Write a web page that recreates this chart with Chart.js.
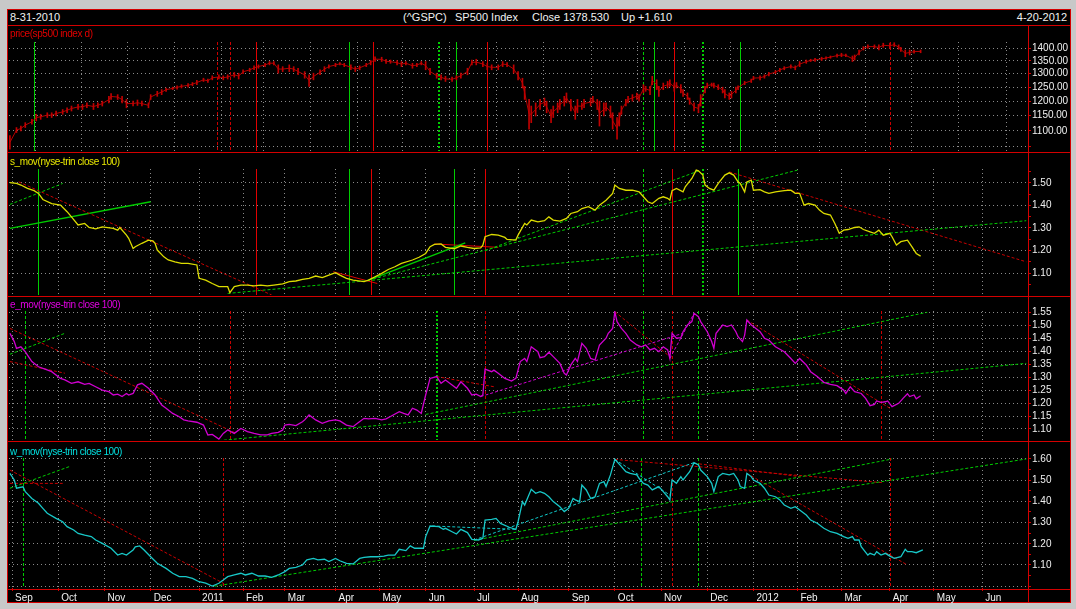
<!DOCTYPE html>
<html>
<head>
<meta charset="utf-8">
<script src="https://cdn.jsdelivr.net/npm/chart.js@4.4.0/dist/chart.umd.min.js"></script>
<style>
  body { margin: 0; width: 1076px; height: 609px; overflow: hidden; position: relative; background: #c8c8c8; font-family: "Liberation Sans", Arial, sans-serif; }
  #frame { position: absolute; left: 7px; top: 9px; width: 1062px; height: 592px; background: #000; border: 1px solid #d40000; }
  canvas { position: absolute; left: 9px; }
  .hl { position: absolute; left: 7px; width: 1064px; height: 1px; background: #d40000; z-index: 5; }
  .vl { position: absolute; width: 1px; background: #d40000; z-index: 5; }
  .t { position: absolute; font-size: 11px; line-height: 12px; color: #f0f0f0; white-space: pre; z-index: 6; }
  .lab { position: absolute; left: 10px; font-size: 10px; line-height: 11px; letter-spacing: -0.4px; white-space: pre; z-index: 6; }
</style>
</head>
<body>
<div id="frame"></div>

<canvas id="pricePanel" width="1062" height="126" style="top:26px"></canvas>
<canvas id="sPanel" width="1062" height="143" style="top:153px"></canvas>
<canvas id="ePanel" width="1062" height="144" style="top:297px"></canvas>
<canvas id="wPanel" width="1062" height="161" style="top:442px"></canvas>

<div class="hl" style="top:25px"></div>
<div class="hl" style="top:152px"></div>
<div class="hl" style="top:296px"></div>
<div class="hl" style="top:441px"></div>
<div class="hl" style="top:589px"></div>
<div class="vl" style="left:1028px; top:25px; height:578px"></div>

<div class="t" style="left:10px; top:11px">8-31-2010</div>
<div class="t" style="left:403px; top:11px">(^GSPC)</div>
<div class="t" style="left:455px; top:11px">SP500 Index</div>
<div class="t" style="left:532px; top:11px">Close 1378.530</div>
<div class="t" style="left:621px; top:11px">Up +1.610</div>
<div class="t" style="right:9px; top:11px">4-20-2012</div>

<div class="lab" style="top:28px; color:#e00000">price(sp500 index d)</div>
<div class="lab" style="top:156px; color:#e8e800">s_mov(nyse-trin close 100)</div>
<div class="lab" style="top:299px; color:#e000e0">e_mov(nyse-trin close 100)</div>
<div class="lab" style="top:446px; color:#00e0e0">w_mov(nyse-trin close 100)</div>

<script>
// trading day numbers, day 0 = Sep 1 2010
const DAY_MIN = -1.4;
const DAY_MAX = 461.8;
const monthDays = [0, 21, 42, 63, 85, 105, 124, 147, 167, 188, 210, 230, 253, 274, 295, 316, 337, 357, 377, 399, 419, 441];
const monthNames = ['Sep', 'Oct', 'Nov', 'Dec', '2011', 'Feb', 'Mar', 'Apr', 'May', 'Jun', 'Jul', 'Aug', 'Sep', 'Oct', 'Nov', 'Dec', '2012', 'Feb', 'Mar', 'Apr', 'May', 'Jun'];

// price(sp500 index d) - daily ranges, sampled
const priceDay = [-1,2,4,6,9,11,13,16,18,20,23,25,27,30,32,34,37,39,41,44,45,48,50,52,55,57,59,62,63,66,68,70,73,75,77,80,82,84,87,89,91,94,96,98,101,103,105,108,110,112,115,117,119,121,123,126,128,130,133,135,137,140,142,144,147,149,151,154,156,158,161,163,165,168,170,172,175,177,179,182,184,186,188,190,193,195,197,200,202,204,207,209,211,214,216,218,221,223,225,228,230,232,233,235,236,238,
  240,242,243,245,246,248,249,251,252,254,256,257,259,260,263,264,266,267,269,270,272,273,275,276,277,279,280,282,284,285,287,288,290,291,293,294,296,298,299,301,302,304,305,307,308,310,312,313,315,316,318,319,321,323,324,326,327,329,330,333,336,337,340,342,344,347,349,351,354,356,358,361,363,365,368,370,372,375,377,379,382,383,385,387,389,392,394,396,399,401,403,404,406,408,410,413];
const priceLow = [1043,1095,1100,1111,1122,1133,1138,1144,1144,1149,1155,1160,1166,1171,1171,1177,1171,1177,1183,1194,1206,1206,1194,1177,1183,1185,1183,1177,1206,1217,1223,1235,1241,1243,1247,1250,1255,1259,1271,1267,1277,1280,1277,1280,1287,1280,1300,1308,1315,1321,1327,1334,1334,1302,1308,1308,1308,1296,1283,1253,1277,1296,1308,1321,1327,1334,1327,1315,1308,1315,1327,1334,1347,1347,1340,1340,1334,1327,1334,1321,1327,1334,1315,1296,1283,1277,1271,1271,1277,1283,1296,1334,1334,1327,1315,1315,1315,1327,1327,1302,1277,1247,1206,1106,1127,1149,
  1171,1183,1160,1127,1144,1160,1171,1183,1194,1166,1138,1160,1171,1177,1183,1194,1171,1116,1149,1166,1144,1106,1074,1116,1155,1183,1194,1200,1206,1200,1229,1235,1223,1259,1241,1217,1241,1247,1253,1235,1247,1229,1217,1206,1189,1166,1160,1183,1229,1247,1253,1247,1241,1229,1211,1206,1211,1229,1241,1259,1267,1277,1277,1283,1292,1300,1308,1315,1321,1315,1327,1340,1347,1347,1351,1356,1360,1364,1366,1366,1347,1353,1373,1393,1400,1400,1393,1404,1400,1407,1396,1387,1366,1373,1380,1382];
const priceHigh = [1085,1111,1116,1127,1138,1155,1155,1160,1160,1166,1171,1177,1183,1189,1189,1194,1192,1194,1200,1217,1227,1223,1217,1206,1200,1204,1200,1194,1223,1235,1241,1247,1250,1255,1259,1263,1267,1275,1283,1280,1292,1296,1292,1296,1305,1302,1315,1321,1330,1334,1340,1347,1347,1334,1327,1334,1327,1321,1308,1296,1302,1315,1327,1334,1340,1343,1340,1334,1327,1330,1340,1351,1366,1364,1356,1353,1351,1347,1347,1340,1340,1347,1347,1321,1302,1296,1290,1287,1292,1302,1321,1353,1356,1347,1340,1334,1334,1347,1343,1334,1308,1283,1253,1206,1183,1194,
  1206,1211,1200,1171,1183,1194,1206,1217,1229,1206,1183,1206,1194,1206,1211,1217,1206,1200,1194,1194,1183,1160,1144,1160,1183,1206,1217,1223,1229,1223,1259,1253,1253,1290,1277,1253,1265,1271,1277,1265,1267,1259,1241,1229,1211,1194,1189,1223,1253,1265,1265,1265,1259,1250,1241,1229,1235,1250,1255,1271,1280,1290,1292,1296,1305,1312,1321,1327,1334,1330,1347,1353,1356,1360,1364,1366,1369,1377,1380,1377,1369,1373,1393,1407,1414,1414,1414,1421,1421,1423,1414,1404,1393,1393,1393,1393];
const priceTicks = [1050, 1100, 1150, 1200, 1250, 1300, 1350, 1400];
const priceLabeled = [1100, 1150, 1200, 1250, 1300, 1350, 1400];

// s_mov(nyse-trin close 100)
const sDay = [-1,2,4,7,10,12,14,18,22,25,27,30,33,35,38,41,46,48,49,52,53,55,56,59,62,64,65,66,69,71,74,77,80,84,85,88,91,94,98,99,101,104,107,110,113,116,119,123,126,129,132,135,138,141,144,147,149,152,155,160,162,165,168,171,174,177,182,185,188,190,192,195,197,201,204,207,210,213,214,215,218,221,224,225,229,230,233,234,236,239,242,244,246,249,252,254,257,259,262,265,267,270,273,274,276,279,282,285,287,289,291,294,296,298,299,300,302,305,306,309,311,312,314,315,317,319,321,324,326,328,330,331,333,334,336,337,340,342,344,347,351,354,356,358,360,362,365,367,369,372,374,376,378,380,383,385,387,390,392,394,396,399,400,402,404,407,409,411,413];
const sVal = [1.501,1.497,1.490,1.475,1.465,1.453,1.426,1.408,1.401,1.372,1.349,1.313,1.320,1.302,1.296,1.305,1.298,1.290,1.302,1.268,1.254,1.209,1.217,1.232,1.246,1.243,1.232,1.202,1.172,1.158,1.150,1.143,1.143,1.136,1.077,1.069,1.054,1.040,1.040,1.013,1.040,1.047,1.047,1.043,1.047,1.043,1.047,1.052,1.062,1.065,1.072,1.077,1.087,1.080,1.091,1.102,1.091,1.077,1.069,1.062,1.069,1.084,1.099,1.116,1.128,1.143,1.158,1.170,1.187,1.217,1.227,1.229,1.214,1.208,1.220,1.214,1.209,1.212,1.224,1.261,1.271,1.268,1.258,1.249,1.246,1.268,1.320,1.313,1.335,1.327,1.332,1.349,1.335,1.330,1.342,1.364,1.372,1.386,1.394,1.379,1.401,1.423,1.453,1.490,1.475,1.467,1.467,1.460,1.438,1.416,1.408,1.431,1.438,1.431,1.423,1.465,1.475,1.460,1.482,1.519,1.556,1.553,1.534,1.490,1.475,1.467,1.497,1.534,1.544,1.534,1.504,1.497,1.460,1.504,1.512,1.467,1.470,1.460,1.453,1.460,1.465,1.467,1.453,1.453,1.401,1.408,1.401,1.379,1.364,1.357,1.320,1.276,1.290,1.293,1.302,1.305,1.293,1.283,1.276,1.290,1.268,1.276,1.261,1.224,1.239,1.246,1.217,1.187,1.175];
const sTicks = [1.05, 1.10, 1.15, 1.20, 1.25, 1.30, 1.35, 1.40, 1.45, 1.50, 1.55];
const sLabeled = [1.10, 1.20, 1.30, 1.40, 1.50];

// e_mov(nyse-trin close 100)
const eDay = [-1,1,2,4,6,7,9,12,15,18,22,24,27,30,33,35,38,41,44,46,48,50,52,53,55,57,59,62,65,68,70,73,76,78,80,84,87,89,91,94,96,98,101,104,107,110,113,116,118,121,123,124,126,129,132,133,135,138,141,144,147,149,152,155,157,160,162,165,168,170,172,176,178,180,182,184,186,188,190,193,195,197,200,202,204,207,209,211,213,214,215,218,219,221,224,227,229,231,233,234,236,239,240,242,244,246,249,251,252,254,256,257,259,261,263,265,267,270,271,273,274,275,277,279,281,284,286,288,290,292,294,296,298,299,300,302,304,305,307,309,310,312,313,316,318,319,320,323,325,327,329,330,332,333,334,336,337,340,342,344,347,351,354,356,358,361,363,366,369,372,375,378,379,381,383,386,388,390,392,393,395,397,398,400,403,405,407,408,410,411,413];
const eVal = [1.469,1.437,1.411,1.417,1.398,1.385,1.360,1.340,1.331,1.321,1.295,1.289,1.276,1.282,1.272,1.276,1.263,1.250,1.244,1.231,1.234,1.225,1.237,1.231,1.237,1.270,1.276,1.257,1.231,1.192,1.180,1.160,1.147,1.135,1.131,1.126,1.115,1.077,1.079,1.061,1.083,1.096,1.083,1.102,1.090,1.083,1.077,1.077,1.083,1.087,1.096,1.115,1.118,1.113,1.128,1.135,1.154,1.135,1.122,1.131,1.135,1.131,1.115,1.109,1.122,1.141,1.139,1.141,1.135,1.139,1.148,1.167,1.160,1.154,1.180,1.173,1.160,1.231,1.295,1.302,1.276,1.289,1.270,1.257,1.282,1.257,1.231,1.234,1.225,1.231,1.331,1.321,1.327,1.315,1.295,1.285,1.295,1.360,1.372,1.360,1.417,1.398,1.375,1.379,1.396,1.379,1.353,1.315,1.308,1.347,1.372,1.360,1.430,1.411,1.372,1.366,1.424,1.450,1.469,1.488,1.552,1.514,1.488,1.469,1.443,1.424,1.417,1.424,1.405,1.411,1.398,1.417,1.405,1.372,1.469,1.450,1.452,1.475,1.501,1.514,1.546,1.533,1.514,1.475,1.437,1.411,1.469,1.501,1.495,1.501,1.475,1.456,1.437,1.462,1.520,1.501,1.495,1.475,1.450,1.443,1.417,1.398,1.372,1.353,1.372,1.347,1.321,1.302,1.280,1.272,1.267,1.250,1.237,1.263,1.244,1.237,1.218,1.190,1.195,1.208,1.203,1.205,1.208,1.186,1.199,1.218,1.236,1.225,1.231,1.216,1.228];
const eTicks = [1.10, 1.15, 1.20, 1.25, 1.30, 1.35, 1.40, 1.45, 1.50, 1.55];
const eLabeled = eTicks;

// w_mov(nyse-trin close 100)
const wDay = [-1,1,2,5,6,9,12,14,16,20,23,25,28,30,33,36,38,41,45,48,50,52,55,56,58,60,63,66,70,73,76,79,82,85,88,91,94,96,98,101,104,106,109,112,115,118,121,124,126,129,132,134,137,139,142,144,147,149,152,155,158,160,163,166,169,171,174,176,179,181,183,187,188,190,194,196,197,200,202,204,207,209,212,214,215,218,220,222,226,229,230,232,233,236,238,240,242,244,246,249,251,253,255,256,258,259,261,263,265,267,269,270,272,274,277,279,281,284,285,287,289,291,294,296,298,299,300,302,304,305,308,310,312,313,316,318,319,321,323,326,328,330,331,333,334,336,337,340,342,344,347,349,351,354,356,358,361,363,366,369,372,375,378,380,382,383,385,386,389,390,392,393,395,397,399,401,404,406,407,409,411,414];
const wVal = [1.532,1.501,1.462,1.469,1.446,1.414,1.391,1.367,1.344,1.320,1.304,1.281,1.265,1.249,1.241,1.234,1.218,1.202,1.179,1.147,1.155,1.147,1.171,1.186,1.190,1.171,1.139,1.108,1.084,1.061,1.045,1.045,1.037,1.021,1.014,1.001,1.014,1.029,1.045,1.053,1.061,1.053,1.061,1.048,1.048,1.042,1.053,1.069,1.084,1.089,1.100,1.124,1.131,1.124,1.127,1.116,1.131,1.120,1.108,1.105,1.131,1.136,1.139,1.139,1.142,1.147,1.147,1.174,1.168,1.190,1.179,1.179,1.234,1.284,1.281,1.268,1.273,1.257,1.246,1.268,1.253,1.221,1.218,1.226,1.312,1.315,1.320,1.296,1.278,1.268,1.304,1.399,1.383,1.457,1.438,1.446,1.438,1.422,1.399,1.375,1.352,1.367,1.414,1.407,1.399,1.477,1.454,1.414,1.422,1.485,1.493,1.470,1.525,1.598,1.564,1.540,1.532,1.525,1.509,1.485,1.477,1.454,1.470,1.446,1.422,1.407,1.501,1.485,1.517,1.501,1.540,1.583,1.572,1.548,1.517,1.485,1.446,1.517,1.532,1.525,1.532,1.501,1.470,1.462,1.532,1.517,1.501,1.485,1.462,1.430,1.422,1.407,1.383,1.367,1.375,1.359,1.336,1.312,1.297,1.273,1.257,1.249,1.234,1.226,1.234,1.218,1.218,1.186,1.147,1.155,1.147,1.163,1.147,1.155,1.142,1.131,1.139,1.174,1.163,1.163,1.158,1.171];
const wTicks = [1.00, 1.05, 1.10, 1.15, 1.20, 1.25, 1.30, 1.35, 1.40, 1.45, 1.50, 1.55, 1.60];
const wGrid = [1.00, 1.10, 1.20, 1.30, 1.40, 1.50, 1.60];
const wLabeled = [1.10, 1.20, 1.30, 1.40, 1.50, 1.60];

// trend lines: [fromDay, fromValue, toDay, toValue, kind]
const sTrends = [
  [3, 1.504, 118, 1.003, 'rd'], [-1, 1.404, 23, 1.497, 'gd'], [-1, 1.298, 63, 1.416, 'gs'],
  [98, 1.010, 461, 1.332, 'gd'], [162, 1.069, 206, 1.234, 'gs'], [162, 1.069, 357, 1.556, 'gd'],
  [215, 1.199, 313, 1.556, 'gd'], [326, 1.548, 461, 1.150, 'rd'], [146, 1.106, 166, 1.054, 'rs'],
  [192, 1.229, 221, 1.214, 'rs']
];
const eTrends = [
  [-1, 1.488, 102, 1.083, 'rd'], [-1, 1.360, 24, 1.315, 'rd'], [-1, 1.388, 24, 1.469, 'gd'],
  [94, 1.055, 461, 1.353, 'gd'], [188, 1.156, 416, 1.550, 'gd'], [213, 1.225, 305, 1.469, 'md'],
  [299, 1.372, 310, 1.546, 'md'], [193, 1.302, 219, 1.263, 'rd'], [274, 1.552, 300, 1.372, 'rd'],
  [334, 1.520, 399, 1.180, 'rd']
];
const wTrends = [
  [-1, 1.548, 96, 1.014, 'rd'], [-1, 1.485, 23, 1.485, 'rd'], [-1, 1.462, 26, 1.564, 'gd'],
  [92, 1.000, 461, 1.600, 'gd'], [210, 1.216, 400, 1.600, 'gd'], [191, 1.284, 229, 1.268, 'cd'],
  [210, 1.218, 310, 1.583, 'cd'], [274, 1.598, 299, 1.430, 'cd'], [274, 1.598, 396, 1.488, 'rd'],
  [310, 1.580, 358, 1.517, 'rd'], [334, 1.532, 407, 1.100, 'rd']
];

// signal days (vertical markers) per panel
const priceSigDay = [10, 93, 99, 111, 153, 164, 194, 202, 216, 287, 292, 301, 314, 331, 399];
const priceSigKind = ['gs', 'rd', 'rd', 'rs', 'gs', 'rs', 'gt', 'gs', 'rs', 'gd', 'gs', 'rs', 'gt', 'gs', 'rd'];
const sSigDay = [12, 111, 153, 163, 201, 215, 287, 300, 314, 330];
const sSigKind = ['gs', 'rs', 'gs', 'rs', 'gs', 'rs', 'gd', 'rs', 'gt', 'gs'];
const eSigDay = [6, 99, 193, 215, 287, 300, 312, 395];
const eSigKind = ['gd', 'rd', 'gt', 'rd', 'gd', 'rd', 'gd', 'rd'];
const wSigDay = [5, 96, 286, 300, 312, 399];
const wSigKind = ['gd', 'rd', 'gd', 'rd', 'gd', 'rd'];

const RED = '#d40000';
const GRID = '#8a8a8a';
const STROKE = {
  gs: { color: '#00cc00', width: 1.5, dash: [] },
  gd: { color: '#00cc00', width: 1, dash: [3, 2] },
  gt: { color: '#00cc00', width: 2, dash: [2, 2] },
  rs: { color: '#e00000', width: 1, dash: [] },
  rd: { color: '#c80000', width: 1, dash: [3, 2] },
  md: { color: '#d000d0', width: 1, dash: [3, 2] },
  cd: { color: '#10c8c8', width: 1, dash: [3, 2] }
};

Chart.defaults.font.family = '"Liberation Sans", Arial, sans-serif';
Chart.defaults.font.size = 10;
Chart.defaults.color = '#f0f0f0';

const key = v => Number(v).toFixed(2);

// vertical signal markers drawn through the x scale
const signalPlugin = {
  id: 'signals',
  beforeDatasetsDraw(chart, args, opts) {
    const { ctx, chartArea, scales } = chart;
    (opts.days || []).forEach((d, i) => {
      const st = STROKE[opts.kinds[i]];
      let px = Math.round(scales.x.getPixelForValue(d));
      if (st.width < 2) px += 0.5;
      ctx.save();
      ctx.strokeStyle = st.color;
      ctx.lineWidth = st.width >= 2 ? 2 : 1;
      ctx.setLineDash(st.dash);
      ctx.beginPath();
      ctx.moveTo(px, chartArea.top);
      ctx.lineTo(px, chartArea.bottom);
      ctx.stroke();
      ctx.restore();
    });
  }
};

function xy(days, vals) {
  return days.map((d, i) => ({ x: d, y: vals[i] }));
}

function trendSets(list) {
  return list.map(t => ({
    type: 'line',
    data: [{ x: t[0], y: t[1] }, { x: t[2], y: t[3] }],
    borderColor: STROKE[t[4]].color,
    borderWidth: STROKE[t[4]].width,
    borderDash: STROKE[t[4]].dash,
    pointRadius: 0
  }));
}

function xScale(showDates) {
  return {
    type: 'linear', min: DAY_MIN, max: DAY_MAX, offset: false,
    afterBuildTicks: s => { s.ticks = monthDays.map(v => ({ value: v })); },
    afterFit: s => { s.height = showDates ? 15 : 0; s.paddingLeft = 0; s.paddingRight = 0; },
    grid: { color: GRID, lineWidth: 1, drawTicks: showDates, tickLength: 3, tickColor: RED },
    border: { display: false, dash: [1, 3] },
    ticks: {
      display: showDates, autoSkip: false, maxRotation: 0, minRotation: 0,
      align: 'start', labelOffset: 3, padding: 1, color: '#f0f0f0',
      callback: (v, i) => monthNames[i]
    }
  };
}

function yScale(o) {
  const gridKeys = o.grid.map(key);
  const labelKeys = o.labels.map(key);
  return {
    type: o.log ? 'logarithmic' : 'linear', position: 'right', min: o.min, max: o.max,
    afterBuildTicks: s => { s.ticks = o.ticks.map(v => ({ value: v })); },
    afterFit: s => { s.width = 43; s.paddingTop = 0; s.paddingBottom = 0; },
    grid: {
      color: c => (c.tick && gridKeys.includes(key(c.tick.value))) ? GRID : 'rgba(0,0,0,0)',
      lineWidth: 1, drawTicks: true, tickLength: 3, tickColor: RED
    },
    border: { display: false, dash: [1, 3] },
    ticks: {
      autoSkip: false, padding: 1, color: '#f0f0f0',
      callback: v => labelKeys.includes(key(v)) ? key(v) : ''
    }
  };
}

function buildPanel(id, o) {
  return new Chart(document.getElementById(id), {
    type: 'line',
    data: { datasets: o.datasets },
    options: {
      responsive: false,
      animation: false,
      events: [],
      layout: { padding: { top: o.padTop, bottom: o.padBottom, left: 0, right: 0 } },
      elements: { point: { radius: 0 }, line: { tension: 0 } },
      plugins: {
        legend: { display: false },
        tooltip: { enabled: false },
        signals: { days: o.sigDays, kinds: o.sigKinds }
      },
      scales: { x: xScale(o.showDates), y: yScale(o) }
    },
    plugins: [signalPlugin]
  });
}

window.addEventListener('DOMContentLoaded', () => {
  buildPanel('pricePanel', {
    log: true, min: 1037.6, max: 1426, ticks: priceTicks, grid: priceTicks, labels: priceLabeled,
    padTop: 16, padBottom: 1, showDates: false, sigDays: priceSigDay, sigKinds: priceSigKind,
    datasets: [
      { type: 'bar', data: priceDay.map((d, i) => ({ x: d, y: [priceLow[i], priceHigh[i]] })),
        backgroundColor: '#c00000', barThickness: 1, grouped: false },
      { type: 'line', data: priceDay.map((d, i) => ({ x: d, y: (priceLow[i] + priceHigh[i]) / 2 })),
        borderColor: '#b40000', borderWidth: 1, pointRadius: 0 }
    ]
  });

  buildPanel('sPanel', {
    min: 1.003, max: 1.561, ticks: sTicks, grid: sLabeled, labels: sLabeled,
    padTop: 16, padBottom: 1, showDates: false, sigDays: sSigDay, sigKinds: sSigKind,
    datasets: [
      { type: 'line', data: xy(sDay, sVal), borderColor: '#dcdc00', borderWidth: 1.3, pointRadius: 0 }
    ].concat(trendSets(sTrends))
  });

  buildPanel('ePanel', {
    min: 1.0575, max: 1.555, ticks: eTicks, grid: eTicks, labels: eLabeled,
    padTop: 14, padBottom: 1, showDates: false, sigDays: eSigDay, sigKinds: eSigKind,
    datasets: [
      { type: 'line', data: xy(eDay, eVal), borderColor: '#d000d0', borderWidth: 1.3, pointRadius: 0 }
    ].concat(trendSets(eTrends))
  });

  buildPanel('wPanel', {
    min: 0.9915, max: 1.6047, ticks: wTicks, grid: wGrid, labels: wLabeled,
    padTop: 16, padBottom: 0, showDates: true, sigDays: wSigDay, sigKinds: wSigKind,
    datasets: [
      { type: 'line', data: xy(wDay, wVal), borderColor: '#18c8c8', borderWidth: 1.3, pointRadius: 0 }
    ].concat(trendSets(wTrends))
  });
});
</script>
</body>
</html>
